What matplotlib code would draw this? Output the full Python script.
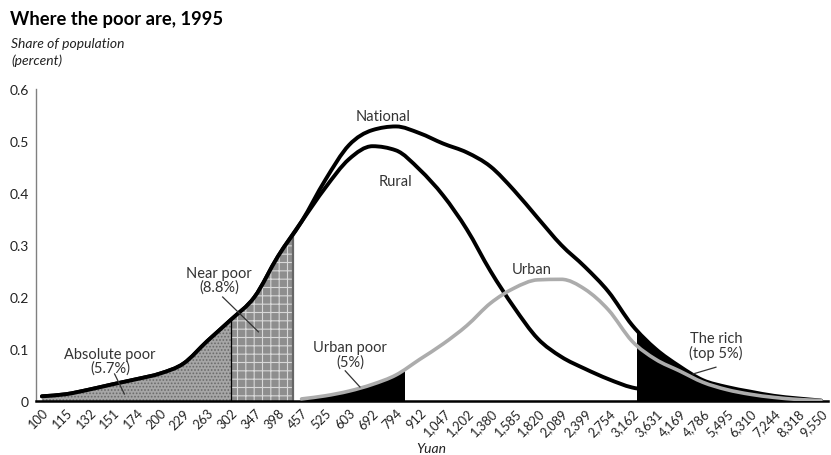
import matplotlib
matplotlib.use("Agg")
import matplotlib.pyplot as plt
from matplotlib.patches import Rectangle, PathPatch
from matplotlib.path import Path
import numpy as np

plt.rcParams['font.family'] = ['Lato', 'DejaVu Sans']

# income groups (yuan), also the x tick labels
yuan = [100, 115, 132, 151, 174, 200, 229, 263, 302, 347, 398, 457, 525, 603,
        692, 794, 912, 1047, 1202, 1380, 1585, 1820, 2089, 2399, 2754, 3162,
        3631, 4169, 4786, 5495, 6310, 7244, 8318, 9550]

# share of population (percent), read at each tick
national = [0.009, 0.013, 0.022, 0.032, 0.042, 0.053, 0.072, 0.115, 0.156, 0.200,
            0.278, 0.345, 0.425, 0.492, 0.521, 0.528, 0.515, 0.495, 0.478, 0.451,
            0.405, 0.352, 0.300, 0.258, 0.210, 0.146, 0.100, 0.067, 0.040, 0.027,
            0.018, 0.010, 0.005, 0.001]
rural = [0.009, 0.013, 0.022, 0.032, 0.042, 0.053, 0.072, 0.115, 0.156, 0.200,
         0.278, 0.345, 0.410, 0.465, 0.490, 0.482, 0.445, 0.395, 0.330, 0.250,
         0.180, 0.120, 0.085, 0.062, 0.042, 0.026, 0.020, None, None, None,
         None, None, None, None]
urban = [None, None, None, None, None, None, None, None, None, None,
         None, 0.004, 0.010, 0.019, 0.032, 0.050, 0.080, 0.110, 0.145, 0.188,
         0.217, 0.233, 0.234, 0.215, 0.175, 0.115, 0.080, 0.058, 0.036, 0.022,
         0.013, 0.007, 0.003, 0.001]

# group boundaries (yuan)
poverty_line = 302
near_poor_top = 435
urban_poor_top = 835
rich_bottom = 3250


def smooth_path(xs, ys, close=False):
    """Monotone cubic curve through the points (in log-x), as a bezier Path."""
    xs = np.asarray(xs, dtype=float)
    ys = np.asarray(ys, dtype=float)
    u = np.log10(xs)
    h = np.diff(u)
    s = np.diff(ys) / h
    m = np.zeros(len(ys))
    m[0], m[-1] = s[0], s[-1]
    for k in range(1, len(ys) - 1):
        p = (s[k - 1] * h[k] + s[k] * h[k - 1]) / (h[k - 1] + h[k])
        m[k] = (np.sign(s[k - 1]) + np.sign(s[k])) * min(abs(s[k - 1]), abs(s[k]), 0.5 * abs(p))
    verts = [(u[0], ys[0])]
    codes = [Path.MOVETO]
    for k in range(len(ys) - 1):
        d = h[k] / 3
        verts += [(u[k] + d, ys[k] + m[k] * d),
                  (u[k + 1] - d, ys[k + 1] - m[k + 1] * d),
                  (u[k + 1], ys[k + 1])]
        codes += [Path.CURVE4] * 3
    if close:
        verts += [(u[-1], 0), (u[0], 0), (u[0], 0)]
        codes += [Path.LINETO, Path.LINETO, Path.CLOSEPOLY]
    verts = np.array(verts)
    verts[:, 0] = 10 ** verts[:, 0]
    return Path(verts, codes)


def valid(vals):
    xs = [a for a, v in zip(yuan, vals) if v is not None]
    ys = [v for v in vals if v is not None]
    return xs, ys


fig = plt.figure(figsize=(8.31, 4.56), dpi=100)
ax = fig.add_axes([36 / 831, 54 / 456, 792 / 831, 312 / 456])
ax.set_xscale('log')
ax.set_xlim(96.6, 9950)
ax.set_ylim(0, 0.6)


def area(vals, x0, x1, **kw):
    xs, ys = valid(vals)
    patch = PathPatch(smooth_path(xs, ys, close=True), transform=ax.transData, lw=0, **kw)
    ax.add_patch(patch)
    patch.set_clip_path(Rectangle((x0, 0), x1 - x0, 1, transform=ax.transData))
    return patch


plt.rcParams['hatch.linewidth'] = 0.8
# absolute poor
area(national, 90, poverty_line, facecolor='#a6a6a6', hatch='.....',
     edgecolor='#6a6a6a', zorder=1)
# near poor
area(national, poverty_line, near_poor_top, facecolor='#8e8e8e', hatch='++',
     edgecolor='#d8d8d8', zorder=1)
# urban poor
area(urban, 90, urban_poor_top, facecolor='black', zorder=1)
# the rich
area(national, rich_bottom, 20000, facecolor='black', zorder=1)

# boundary lines, cut at the national curve
xs, ys = valid(national)
under = PathPatch(smooth_path(xs, ys, close=True), transform=ax.transData,
                  facecolor='none', lw=0)
ax.add_patch(under)
ln, = ax.plot([poverty_line, poverty_line], [0, 0.6], color='black', lw=0.9, zorder=2)
ln.set_clip_path(under)
ln, = ax.plot([near_poor_top, near_poor_top], [0, 0.6], color='#666666', lw=1.6, zorder=2)
ln.set_clip_path(under)

# curves
for vals, col, lw, z in [(rural, 'black', 2.8, 0.5), (national, 'black', 2.8, 3),
                         (urban, '#acacac', 2.6, 4)]:
    xs, ys = valid(vals)
    ax.add_patch(PathPatch(smooth_path(xs, ys), transform=ax.transData,
                           facecolor='none', edgecolor=col, lw=lw,
                           capstyle='round', joinstyle='round', zorder=z))

# axes styling
for s in ['top', 'right']:
    ax.spines[s].set_visible(False)
ax.spines['left'].set_color('#808080')
ax.spines['left'].set_linewidth(1.0)
ax.spines['bottom'].set_color('black')
ax.spines['bottom'].set_linewidth(1.8)
ax.set_yticks([0, 0.1, 0.2, 0.3, 0.4, 0.5, 0.6])
ax.set_yticklabels(['0', '0.1', '0.2', '0.3', '0.4', '0.5', '0.6'], fontsize=10, color='#222222')
ax.set_xticks(yuan)
ax.set_xticklabels(['{:,}'.format(v) for v in yuan], rotation=45, ha='right', va='top',
                   rotation_mode='anchor', fontsize=9.2, color='#222222')
ax.xaxis.set_minor_locator(matplotlib.ticker.NullLocator())
ax.tick_params(axis='both', length=0)
ax.tick_params(axis='x', pad=4)
ax.tick_params(axis='y', pad=5)

# labels
txt = dict(fontsize=10.5, color='#333333', ha='center', va='center', zorder=6)
ax.text(735, 0.548, 'National', **txt)
ax.text(793, 0.423, 'Rural', **txt)
ax.text(1760, 0.254, 'Urban', **txt)
ax.text(282, 0.233, 'Near poor\n(8.8%)', linespacing=1.0, **txt)
ax.text(149, 0.077, 'Absolute poor\n(5.7%)', linespacing=1.0, **txt)
ax.text(607, 0.090, 'Urban poor\n(5%)', linespacing=1.0, **txt)
ax.text(5164, 0.106, 'The rich\n(top 5%)', linespacing=1.0, **txt)

lead = dict(color='#333333', lw=0.9, zorder=5)
ax.plot([288, 355], [0.200, 0.133], **lead)
ax.plot([153, 162], [0.052, 0.0135], **lead)
ax.plot([590, 643], [0.058, 0.027], **lead)
ax.plot([5164, 4517], [0.065, 0.052], **lead)

fig.text(10 / 831, 1 - 19 / 456, 'Where the poor are, 1995', fontsize=13.2,
         fontweight='bold', va='center', ha='left', color='black')
fig.text(11 / 831, 1 - 44 / 456, 'Share of population', fontsize=10, style='italic',
         va='center', ha='left', color='#222222')
fig.text(11 / 831, 1 - 61 / 456, '(percent)', fontsize=10, style='italic',
         va='center', ha='left', color='#222222')
fig.text(431 / 831, 1 - 449 / 456, 'Yuan', fontsize=10, style='italic',
         va='center', ha='center', color='#222222')

fig.savefig('out.png', dpi=100)
